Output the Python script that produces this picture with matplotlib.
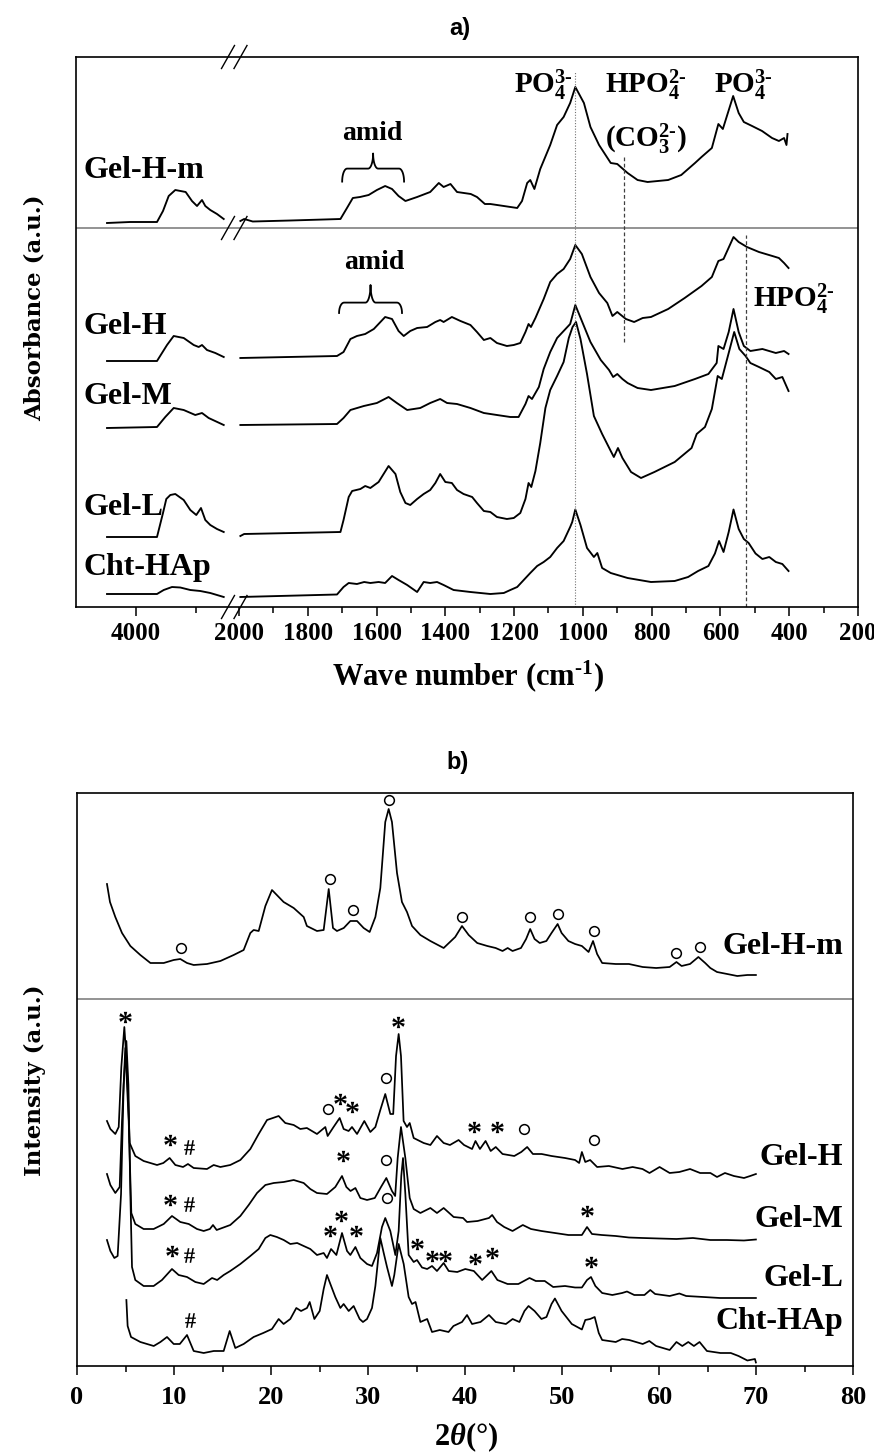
import numpy as np
import matplotlib
matplotlib.use('Agg')
import matplotlib.pyplot as plt
from matplotlib.ticker import FixedLocator

plt.rcParams['font.family'] = ['Liberation Serif', 'DejaVu Serif']
plt.rcParams['font.weight'] = 'bold'
plt.rcParams['mathtext.fontset'] = 'custom'
plt.rcParams['mathtext.rm'] = 'Liberation Serif:bold'
plt.rcParams['mathtext.bf'] = 'Liberation Serif:bold'
plt.rcParams['mathtext.it'] = 'Liberation Serif:italic:bold'
plt.rcParams['mathtext.default'] = 'bf'

# ---------------- a) FTIR spectra (wave number in cm-1, absorbance a.u.) ----------------
ftir_labels = ['Gel-H-m', 'Gel-H', 'Gel-M', 'Gel-L', 'Cht-HAp']

wn_ghm = [4483, 4100, 3650, 3550, 3455, 3345, 3172, 3067, 2983, 2900, 2845, 2762, 2650, 2538,
          1996, 1985, 1960, 1850, 1705, 1686, 1669, 1648, 1623, 1599, 1575, 1555, 1536, 1516, 1482,
          1444, 1419, 1405, 1385, 1366, 1326, 1308, 1285, 1269, 1230, 1191, 1177, 1162, 1153, 1141,
          1124, 1095, 1075, 1056, 1037, 1022, 997, 978, 953, 919, 900, 870, 841, 812, 752, 714, 674,
          655, 625, 606, 593, 563, 547, 532, 508, 479, 450, 430, 415, 408, 405]
ab_ghm = [3.84, 3.85, 3.85, 3.96, 4.11, 4.17, 4.15, 4.06, 4.01, 4.07, 4.01, 3.97, 3.93, 3.88,
          3.86, 3.88, 3.855, 3.865, 3.88, 3.99, 4.09, 4.10, 4.12, 4.17, 4.21, 4.18, 4.11, 4.06, 4.10,
          4.15, 4.24, 4.20, 4.23, 4.15, 4.13, 4.10, 4.03, 4.03, 4.01, 3.99, 4.06, 4.24, 4.27, 4.18,
          4.38, 4.62, 4.82, 4.90, 5.04, 5.20, 5.04, 4.80, 4.62, 4.44, 4.43, 4.34, 4.27, 4.25, 4.27, 4.32, 4.44,
          4.50, 4.59, 4.83, 4.78, 5.11, 4.94, 4.85, 4.81, 4.76, 4.69, 4.66, 4.69, 4.62, 4.73]

wn_gh = [4483, 3650, 3483, 3372, 3205, 3038, 2955, 2900, 2817, 2678, 2538,
         1996, 1715, 1696, 1676, 1657, 1633, 1608, 1575, 1555, 1536, 1521, 1502, 1482, 1453, 1429,
         1415, 1405, 1381, 1356, 1327, 1308, 1288, 1269, 1250, 1221, 1201, 1182, 1167, 1158, 1151,
         1138, 1114, 1095, 1075, 1056, 1037, 1022, 1003, 978, 953, 929, 914, 900, 875, 851, 826, 802,
         752, 704, 655, 625, 606, 591, 562, 547, 523, 488, 449, 430, 415, 402]
ab_gh = [2.46, 2.46, 2.62, 2.71, 2.69, 2.62, 2.60, 2.62, 2.57, 2.54, 2.50,
         2.49, 2.51, 2.55, 2.68, 2.71, 2.73, 2.78, 2.90, 2.88, 2.76, 2.71, 2.76, 2.79, 2.80, 2.85,
         2.87, 2.85, 2.90, 2.86, 2.82, 2.75, 2.67, 2.69, 2.64, 2.61, 2.62, 2.64, 2.75, 2.83, 2.80,
         2.89, 3.08, 3.25, 3.33, 3.38, 3.48, 3.62, 3.53, 3.30, 3.14, 3.04, 2.91, 2.95, 2.88, 2.85, 2.89, 2.90,
         2.98, 3.09, 3.21, 3.30, 3.46, 3.48, 3.70, 3.65, 3.60, 3.55, 3.51, 3.49, 3.44, 3.39]

wn_gm = [4483, 3650, 3512, 3372, 3205, 3012, 2900, 2789, 2538,
         1996, 1715, 1696, 1676, 1637, 1599, 1565, 1541, 1511, 1473, 1444, 1415, 1395, 1366, 1327,
         1288, 1250, 1211, 1187, 1167, 1158, 1148, 1128, 1114, 1095, 1075, 1056, 1037, 1022, 1003,
         978, 948, 924, 912, 900, 885, 870, 841, 802, 733, 674, 635, 611, 606, 591, 576, 562, 547,
         532, 513, 478, 439, 415, 402]
ab_gm = [1.79, 1.80, 1.90, 1.99, 1.97, 1.92, 1.94, 1.89, 1.82,
         1.82, 1.83, 1.89, 1.97, 2.01, 2.04, 2.10, 2.04, 1.97, 1.99, 2.04, 2.08, 2.04, 2.03, 1.99,
         1.94, 1.92, 1.90, 1.90, 2.03, 2.11, 2.08, 2.20, 2.38, 2.55, 2.69, 2.76, 2.83, 3.02, 2.86,
         2.65, 2.47, 2.37, 2.30, 2.33, 2.28, 2.24, 2.19, 2.17, 2.21, 2.28, 2.33, 2.44, 2.61, 2.58, 2.75, 2.98, 2.75,
         2.61, 2.56, 2.58, 2.54, 2.56, 2.53]

wn_gl = [4483, 3650, 3550, 3495, 3428, 3345, 3205, 3095, 2995, 2917, 2845, 2762, 2650, 2538,
         1996, 1985, 1705, 1696, 1681, 1671, 1647, 1633, 1618, 1594, 1565, 1545, 1531, 1516, 1502,
         1482, 1463, 1444, 1429, 1415, 1400, 1381, 1366, 1347, 1322, 1308, 1288, 1269, 1250, 1221,
         1201, 1182, 1167, 1158, 1150, 1138, 1124, 1109, 1095, 1075, 1056, 1041, 1030, 1020, 1007,
         988, 968, 944, 919, 910, 898, 885, 860, 831, 792, 733, 684, 669, 645, 625, 608, 596, 576,
         560, 545, 527, 513, 488, 458, 439, 420, 402]
ab_gl = [0.70, 0.70, 0.94, 1.08, 1.12, 1.13, 1.07, 0.97, 0.92, 0.99, 0.87, 0.82, 0.78, 0.75,
         0.71, 0.73, 0.75, 0.87, 1.10, 1.16, 1.18, 1.21, 1.19, 1.25, 1.41, 1.33, 1.15, 1.04, 1.02,
         1.08, 1.13, 1.17, 1.24, 1.33, 1.25, 1.24, 1.17, 1.13, 1.10, 1.04, 0.96, 0.95, 0.90, 0.88,
         0.89, 0.94, 1.08, 1.24, 1.20, 1.36, 1.64, 1.99, 2.17, 2.31, 2.45, 2.69, 2.80, 2.85, 2.68,
         2.33, 1.91, 1.73, 1.56, 1.50, 1.59, 1.49, 1.35, 1.29, 1.35, 1.45, 1.59, 1.73, 1.80, 1.98, 2.31, 2.28, 2.54,
         2.75, 2.58, 2.51, 2.44, 2.40, 2.35, 2.28, 2.30, 2.16]

wn_cht = [4483, 3650, 3538, 3400, 3262, 3095, 2928, 2762, 2538,
          1996, 1715, 1696, 1681, 1657, 1636, 1618, 1594, 1575, 1555, 1536, 1511, 1482, 1463, 1444,
          1424, 1405, 1376, 1327, 1269, 1230, 1211, 1191, 1172, 1153, 1133, 1114, 1095, 1075, 1056,
          1037, 1031, 1022, 1007, 988, 968, 958, 944, 919, 870, 802, 733, 694, 665, 635, 616, 604,
          591, 576, 562, 547, 532, 518, 498, 478, 458, 439, 420, 402]
ab_cht = [0.13, 0.13, 0.17, 0.20, 0.195, 0.17, 0.16, 0.14, 0.10,
          0.10, 0.125, 0.20, 0.24, 0.23, 0.25, 0.24, 0.25, 0.24, 0.31, 0.27, 0.22, 0.15, 0.25, 0.24,
          0.25, 0.22, 0.17, 0.15, 0.13, 0.14, 0.17, 0.20, 0.27, 0.34, 0.41, 0.45, 0.50, 0.59, 0.66,
          0.80, 0.85, 0.975, 0.82, 0.59, 0.50, 0.54, 0.39, 0.34, 0.29, 0.25, 0.26, 0.30, 0.36, 0.41, 0.535, 0.66,
          0.55, 0.75, 0.975, 0.78, 0.68, 0.64, 0.535, 0.48, 0.50, 0.45, 0.43, 0.36]

ftir_wn = [wn_ghm, wn_gh, wn_gm, wn_gl, wn_cht]
ftir_ab = [ab_ghm, ab_gh, ab_gm, ab_gl, ab_cht]
ftir_label_y = [4.29, 2.73, 2.03, 0.92, 0.325]

# ---------------- b) XRD patterns (2theta in degrees, intensity a.u.) ----------------
xrd_labels = ['Gel-H-m', 'Gel-H', 'Gel-M', 'Gel-L', 'Cht-HAp']

tt_ghm = [3.09, 3.4, 3.95, 4.64, 5.5, 6.53, 7.57, 8.94, 9.97, 10.65, 11.34, 12.03, 13.4, 14.78, 16.15,
          17.18, 17.87, 18.21, 18.73, 19.42, 20.1, 20.6, 21.3, 22.34, 23.37, 23.7, 24.74, 25.43, 25.95,
          26.39, 26.8, 27.5, 28.18, 28.87, 29.55, 30.17, 30.76, 31.27, 31.78, 32.13, 32.47, 32.99, 33.5,
          34.02, 34.54, 35.4, 36.43, 37.8, 38.99, 39.69, 40.38, 41.26, 42.3, 43.16, 43.87, 44.4, 44.9,
          45.77, 46.3, 46.72, 47.17, 47.7, 48.39, 48.92, 49.55, 49.96, 50.66, 51.35, 52.05, 52.74, 53.2,
          53.62, 54.14, 55.54, 56.9, 58.32, 59.71, 61.1, 61.8, 62.33, 63.2, 64.06, 64.76, 65.29, 65.98,
          67.03, 68.07, 69.11, 69.99]
int_ghm = [4.82, 4.64, 4.49, 4.33, 4.20, 4.11, 4.03, 4.03, 4.06, 4.07, 4.03, 4.01, 4.02, 4.05, 4.11,
           4.16, 4.33, 4.36, 4.35, 4.60, 4.76, 4.71, 4.64, 4.58, 4.49, 4.40, 4.35, 4.36, 4.77,
           4.38, 4.35, 4.38, 4.45, 4.45, 4.38, 4.34, 4.49, 4.78, 5.44, 5.57, 5.44, 4.93, 4.64,
           4.54, 4.40, 4.31, 4.25, 4.18, 4.29, 4.40, 4.31, 4.23, 4.20, 4.18, 4.15, 4.18, 4.15,
           4.18, 4.27, 4.37, 4.27, 4.23, 4.25, 4.33, 4.42, 4.33, 4.25, 4.22, 4.20, 4.14, 4.25,
           4.12, 4.03, 4.02, 4.02, 3.99, 3.98, 3.99, 4.04, 4.00, 4.02, 4.09, 4.03, 3.98, 3.94,
           3.92, 3.90, 3.91, 3.91]

tt_gh = [3.09, 3.44, 3.95, 4.3, 4.57, 4.88, 5.15, 5.43, 6.01, 6.87, 8.25, 8.9, 9.55, 10.14, 10.93,
         11.44, 12.03, 13.4, 14.09, 14.78, 15.8, 16.84, 17.87, 18.73, 19.59, 20.79, 21.47, 22.34, 23.02,
         23.7, 24.74, 25.6, 25.84, 26.45, 27.08, 27.49, 28.0, 28.35, 28.87, 29.62, 30.24, 30.76, 31.27,
         31.78, 32.3, 32.6, 32.89, 33.16, 33.4, 33.67, 34.02, 34.3, 34.71, 35.74, 36.43, 37.11, 37.8,
         38.45, 39.34, 39.9, 40.73, 41.08, 41.54, 42.12, 42.65, 43.17, 43.87, 45.08, 45.8, 46.41, 47.0,
         47.9, 48.92, 50.31, 51.35, 51.77, 52.05, 52.4, 52.9, 53.62, 54.83, 56.23, 57.28, 58.3, 59.02,
         60.06, 61.1, 62.1, 63.2, 64.24, 65.3, 65.98, 66.8, 67.72, 68.76, 69.4, 69.99]
int_gh = [2.45, 2.37, 2.32, 2.39, 2.99, 3.39, 2.99, 2.23, 2.10, 2.05, 2.01, 2.03, 2.08, 2.01, 1.99,
          2.02, 1.98, 1.97, 2.01, 1.99, 2.01, 2.06, 2.17, 2.32, 2.46, 2.50, 2.43, 2.41, 2.37,
          2.38, 2.32, 2.39, 2.30, 2.39, 2.48, 2.37, 2.35, 2.39, 2.32, 2.45, 2.34, 2.39, 2.56,
          2.72, 2.52, 2.52, 3.10, 3.32, 3.10, 2.45, 2.39, 2.43, 2.28, 2.23, 2.21, 2.30, 2.23,
          2.21, 2.26, 2.21, 2.17, 2.25, 2.17, 2.25, 2.15, 2.19, 2.12, 2.10, 2.14, 2.19, 2.12,
          2.12, 2.10, 2.08, 2.06, 2.03, 2.14, 2.04, 2.06, 1.99, 2.00, 1.97, 1.99, 1.97, 1.93,
          1.99, 1.93, 1.94, 1.97, 1.93, 1.93, 1.89, 1.93, 1.90, 1.88, 1.90, 1.92]

tt_gm = [3.09, 3.44, 3.95, 4.4, 4.64, 4.98, 5.33, 5.6, 6.01, 6.87, 7.9, 8.94, 9.79, 10.65, 11.52,
         12.37, 13.06, 13.7, 14.02, 14.4, 15.8, 16.84, 17.7, 18.56, 19.42, 20.28, 21.31, 22.34, 23.37,
         24.05, 24.74, 25.77, 26.63, 27.32, 27.77, 28.2, 28.7, 29.21, 29.9, 30.7, 31.34, 31.89, 32.47,
         32.8, 33.06, 33.4, 33.85, 34.3, 34.71, 35.4, 36.43, 37.11, 37.8, 38.83, 39.8, 40.21, 41.3,
         42.47, 42.8, 43.3, 44.04, 44.9, 45.96, 46.8, 47.88, 49.27, 50.66, 52.05, 52.58, 53.09, 54.1,
         55.54, 56.9, 58.32, 60.0, 61.8, 63.5, 65.29, 67.0, 68.76, 69.99]
int_gm = [1.92, 1.81, 1.73, 1.79, 2.45, 3.18, 2.45, 1.53, 1.42, 1.37, 1.37, 1.42, 1.50, 1.44, 1.42,
          1.37, 1.35, 1.37, 1.41, 1.36, 1.41, 1.50, 1.61, 1.73, 1.81, 1.83, 1.84, 1.86, 1.83,
          1.77, 1.73, 1.72, 1.79, 1.90, 1.79, 1.75, 1.78, 1.68, 1.66, 1.68, 1.79, 1.88, 1.75,
          1.70, 2.08, 2.39, 2.08, 1.68, 1.57, 1.53, 1.58, 1.53, 1.58, 1.49, 1.48, 1.44, 1.45,
          1.48, 1.51, 1.44, 1.39, 1.35, 1.41, 1.37, 1.35, 1.33, 1.31, 1.31, 1.39, 1.32, 1.31,
          1.30, 1.285, 1.28, 1.275, 1.27, 1.28, 1.26, 1.26, 1.255, 1.265]

tt_gl = [3.09, 3.44, 3.85, 4.19, 4.54, 4.81, 5.09, 5.3, 5.5, 5.67, 6.01, 6.87, 7.9, 8.76, 9.79,
         10.48, 11.34, 12.2, 13.06, 13.92, 14.45, 15.12, 15.8, 16.84, 17.87, 18.73, 19.42, 19.93, 20.6,
         21.31, 21.99, 22.7, 23.37, 24.05, 24.74, 25.43, 25.77, 26.19, 26.74, 27.32, 27.84, 28.18, 28.7,
         29.21, 29.9, 30.41, 30.93, 31.44, 31.78, 32.3, 32.82, 33.16, 33.43, 33.61, 33.85, 34.19, 34.71,
         35.05, 35.57, 36.1, 36.6, 37.11, 37.8, 38.32, 39.2, 40.03, 40.91, 41.77, 42.72, 43.34, 44.39,
         45.5, 46.65, 47.3, 48.22, 49.09, 50.31, 51.35, 52.05, 52.58, 52.99, 53.44, 54.14, 55.19, 56.2,
         56.7, 57.45, 58.5, 59.1, 59.6, 61.1, 62.1, 62.8, 64.59, 66.3, 68.07, 69.99]
int_gl = [1.26, 1.15, 1.08, 1.10, 1.72, 2.81, 3.25, 2.81, 1.72, 0.99, 0.86, 0.80, 0.80, 0.86, 0.97,
          0.91, 0.89, 0.84, 0.82, 0.88, 0.86, 0.91, 0.95, 1.02, 1.10, 1.17, 1.28, 1.31, 1.29,
          1.26, 1.22, 1.23, 1.20, 1.17, 1.11, 1.13, 1.08, 1.17, 1.11, 1.33, 1.15, 1.11, 1.19,
          1.08, 1.02, 1.00, 1.13, 1.39, 1.48, 1.35, 1.11, 1.35, 1.90, 2.08, 1.72, 1.11, 1.04,
          1.06, 0.985, 0.97, 1.00, 0.95, 1.03, 0.95, 0.94, 0.97, 0.95, 0.86, 0.95, 0.86, 0.82,
          0.82, 0.88, 0.85, 0.85, 0.79, 0.80, 0.785, 0.785, 0.86, 0.89, 0.80, 0.73, 0.71, 0.73,
          0.745, 0.71, 0.71, 0.76, 0.72, 0.70, 0.725, 0.70, 0.69, 0.68, 0.68, 0.68]

tt_cht = [5.09, 5.22, 5.57, 6.53, 7.91, 8.6, 9.28, 9.97, 10.6, 11.34, 12.03, 13.06, 14.1, 15.12, 15.74,
          16.32, 17.18, 18.21, 19.2, 20.1, 20.79, 21.3, 21.99, 22.61, 23.1, 23.71, 23.99, 24.47, 25.02,
          25.43, 25.77, 26.12, 26.63, 27.15, 27.49, 28.01, 28.52, 29.14, 29.48, 29.9, 30.41, 30.76, 31.27,
          31.62, 31.96, 32.47, 32.71, 33.16, 33.68, 34.19, 34.54, 34.9, 35.4, 36.1, 36.6, 37.4, 38.3,
          38.81, 39.69, 40.21, 40.73, 41.6, 42.47, 43.17, 44.22, 44.91, 45.61, 46.13, 46.55, 47.17, 47.88,
          48.4, 48.92, 49.27, 49.96, 51.01, 52.05, 52.4, 52.9, 53.37, 53.79, 54.14, 55.54, 56.2, 56.93,
          58.32, 59.0, 59.7, 61.1, 61.8, 62.4, 63.02, 63.6, 64.18, 64.94, 66.33, 67.4, 68.2, 69.11,
          69.89, 69.99]
int_cht = [0.66, 0.40, 0.29, 0.24, 0.20, 0.24, 0.29, 0.22, 0.22, 0.31, 0.15, 0.13, 0.15, 0.15, 0.35,
           0.18, 0.22, 0.29, 0.33, 0.37, 0.47, 0.42, 0.47, 0.58, 0.55, 0.58, 0.64, 0.47, 0.55,
           0.77, 0.91, 0.82, 0.69, 0.58, 0.62, 0.55, 0.60, 0.47, 0.44, 0.47, 0.58, 0.80, 1.28,
           1.13, 0.99, 0.80, 0.91, 1.22, 1.02, 0.69, 0.62, 0.64, 0.44, 0.47, 0.34, 0.36, 0.34,
           0.40, 0.44, 0.51, 0.42, 0.44, 0.51, 0.44, 0.42, 0.47, 0.44, 0.55, 0.60, 0.55, 0.47,
           0.49, 0.62, 0.675, 0.55, 0.42, 0.365, 0.46, 0.47, 0.49, 0.33, 0.26, 0.24, 0.27, 0.26,
           0.22, 0.25, 0.20, 0.16, 0.24, 0.20, 0.24, 0.20, 0.24, 0.15, 0.13, 0.13, 0.10, 0.055,
           0.07, 0.035]

xrd_tt = [tt_ghm, tt_gh, tt_gm, tt_gl, tt_cht]
xrd_int = [int_ghm, int_gh, int_gm, int_gl, int_cht]
xrd_label_y = [4.12, 2.01, 1.39, 0.80, 0.365]

# phase markers on the XRD patterns
circle_tt = [10.76, 26.05, 28.45, 32.13, 39.69, 46.75, 49.55, 53.27, 61.8, 64.18,
             25.9, 31.9, 46.06, 53.27, 31.9, 31.96]
circle_y = [4.18, 4.87, 4.56, 5.66, 4.49, 4.49, 4.52, 4.35, 4.13, 4.19,
            2.57, 2.88, 2.37, 2.26, 2.06, 1.68]
star_tt = [4.91, 9.55, 27.15, 28.4, 33.1, 40.9, 43.34, 9.62, 27.39, 52.58,
           9.79, 26.05, 27.25, 28.8, 35.05, 36.6, 37.97, 41.0, 42.82, 53.03]
star_y = [3.49, 2.26, 2.67, 2.59, 3.44, 2.39, 2.39, 1.66, 2.10, 1.55,
          1.15, 1.35, 1.50, 1.35, 1.22, 1.10, 1.10, 1.07, 1.13, 1.04]
hash_tt = [11.5, 11.5, 11.55, 11.6]
hash_y = [2.19, 1.62, 1.11, 0.46]


# broken wave-number axis: 5000-2500 compressed, 2000-200 expanded
# (forward returns minus the horizontal position, so it rises with wave number)
def wn_fwd(w):
    w = np.asarray(w, dtype=float)
    u = np.where(w >= 2500, 76 + (5000 - w) * 0.06,
                 np.where(w <= 2000, 239 + (2000 - w) * 0.3439,
                          226 + (2500 - w) * 0.026))
    return -u


def wn_inv(v):
    u = -np.asarray(v, dtype=float)
    return np.where(u <= 226, 5000 - (u - 76) / 0.06,
                    np.where(u >= 239, 2000 - (u - 239) / 0.3439,
                             2500 - (u - 226) / 0.026))


def brace(ax, x0, x1, y_end, y_base, y_tip):
    t = np.linspace(0, 1, 12)
    d = (x1 - x0) * 0.08
    xm = (x0 + x1) / 2
    xs = np.concatenate([x0 + d * (1 - np.cos(t * np.pi / 2)),
                         xm - d + d * np.sin(t * np.pi / 2)])
    ys = np.concatenate([y_end + (y_base - y_end) * np.sin(t * np.pi / 2),
                         y_base + (y_tip - y_base) * (1 - np.cos(t * np.pi / 2))])
    xs2 = 2 * xm - xs[::-1]
    ys2 = ys[::-1]
    ax.plot(np.concatenate([xs, xs2]), np.concatenate([ys, ys2]), color='k', lw=1.3)


def breakmark(ax, fx, fy, dx, dy):
    for cx in fx:
        ax.plot([cx - dx, cx + dx], [fy - dy, fy + dy], color='k', lw=1.0,
                transform=ax.transAxes, clip_on=False)


fig = plt.figure(figsize=(8.74, 14.52), dpi=100)
ax1 = fig.add_axes([76 / 874, 1 - 607 / 1452, 782 / 874, 550 / 1452])
ax2 = fig.add_axes([77 / 874, 1 - 1366 / 1452, 776 / 874, 573 / 1452])

# ---- panel a
ax1.set_xscale('function', functions=(wn_fwd, wn_inv))
for wn, ab in zip(ftir_wn, ftir_ab):
    wn = np.array(wn)
    ab = np.array(ab)
    left = wn > 2200
    ax1.plot(wn[left], ab[left], color='k', lw=1.35)
    ax1.plot(wn[~left], ab[~left], color='k', lw=1.35)
ax1.set_xlim(5000, 200)
ax1.set_ylim(0, 5.5)
ax1.axhline(3.79, color='0.5', lw=1.2)

ax1.plot([1022, 1022], [0, 5.36], ls=(0, (1, 1.5)), color='0.45', lw=0.8)
ax1.plot([880, 880], [2.65, 4.51], ls=(0, (3, 2)), color='0.25', lw=0.9)
ax1.plot([525, 525], [0, 3.72], ls=(0, (3, 2)), color='0.25', lw=0.9)

for lab, y in zip(ftir_labels, ftir_label_y):
    ax1.text(4880, y, lab, fontsize=23, fontweight='bold', ha='left', va='baseline')

ax1.text(1200, 5.14, '$PO_4^{3\u2010}$', fontsize=21, ha='left', va='baseline')
ax1.text(936, 5.14, '$HPO_4^{2\u2010}$', fontsize=21, ha='left', va='baseline')
ax1.text(936, 4.60, '$(CO_3^{2\u2010})$', fontsize=21, ha='left', va='baseline')
ax1.text(619, 5.14, '$PO_4^{3\u2010}$', fontsize=21, ha='left', va='baseline')
ax1.text(505, 3.00, '$HPO_4^{2\u2010}$', fontsize=21, ha='left', va='baseline')
ax1.text(1613, 4.675, 'amid', fontsize=20, fontweight='bold', ha='center', va='baseline')
ax1.text(1607, 3.38, 'amid', fontsize=20, fontweight='bold', ha='center', va='baseline')
brace(ax1, 1700, 1520, 4.254, 4.384, 4.535)
brace(ax1, 1709, 1526, 2.94, 3.044, 3.22)

ax1.xaxis.set_major_locator(FixedLocator([4000] + list(range(2000, 199, -200))))
ax1.xaxis.set_minor_locator(FixedLocator([3000] + list(range(1900, 299, -200))))
ax1.set_xticklabels(['4000'] + [str(v) for v in range(2000, 199, -200)])
ax1.set_yticks([])
ax1.tick_params(axis='x', which='major', direction='out', length=6.5, width=1.1,
                labelsize=18, pad=4)
ax1.tick_params(axis='x', which='minor', direction='out', length=4, width=1.1)
for s in ax1.spines.values():
    s.set_linewidth(1.2)
fdy = 11.5 / 550
for fy in [0, 1, (607 - 228) / 550]:
    breakmark(ax1, [(228 - 76) / 782, (240.5 - 76) / 782], fy, 6.5 / 782, fdy)

# ---- panel b
for tt, it in zip(xrd_tt, xrd_int):
    ax2.plot(tt, it, color='k', lw=1.25)
ax2.set_xlim(0, 80)
ax2.set_ylim(0, 5.73)
ax2.axhline(3.67, color='0.5', lw=1.2)
ax2.plot(circle_tt, circle_y, ls='none', marker='o', ms=7, mfc='none', mec='k', mew=1.1)
ax2.plot(star_tt, star_y, ls='none', marker=r'$*$', ms=9, color='k', mew=0)
ax2.plot(hash_tt, hash_y, ls='none', marker=r'$\#$', ms=10.5, color='k', mew=0)
for lab, y in zip(xrd_labels, xrd_label_y):
    ax2.text(79.0, y, lab, fontsize=23, fontweight='bold', ha='right', va='baseline')

ax2.set_xticks(range(0, 81, 10))
ax2.set_xticks(range(5, 80, 10), minor=True)
ax2.set_yticks([])
ax2.tick_params(axis='x', which='major', direction='out', length=6.5, width=1.1,
                labelsize=19, pad=8)
ax2.tick_params(axis='x', which='minor', direction='out', length=4, width=1.1)
for s in ax2.spines.values():
    s.set_linewidth(1.2)

# ---- figure texts
fig.text(0.526, 1 - 28 / 1452, 'a)', family='Liberation Sans', fontweight='bold', fontsize=17,
         ha='center', va='center')
fig.text(0.523, 1 - 762 / 1452, 'b)', family='Liberation Sans', fontweight='bold', fontsize=17,
         ha='center', va='center')
fig.text(468 / 874, 1 - 676 / 1452, 'Wave number (cm$^{\u20101}$)', fontsize=22, fontweight='bold',
         ha='center', va='center')
fig.text(466 / 874, 1 - 1437 / 1452, r'2$\mathit{\theta}$(°)', fontsize=22, fontweight='bold',
         ha='center', va='center')
fig.text(35 / 874, 1 - 308 / 1452, 'Absorbance (a.u.)', family='DejaVu Serif', fontweight='bold',
         fontsize=16.5, rotation=90, ha='center', va='center')
fig.text(35 / 874, 1 - 1080 / 1452, 'Intensity (a.u.)', family='DejaVu Serif', fontweight='bold',
         fontsize=16.5, rotation=90, ha='center', va='center')

fig.savefig('out.png', dpi=100)
